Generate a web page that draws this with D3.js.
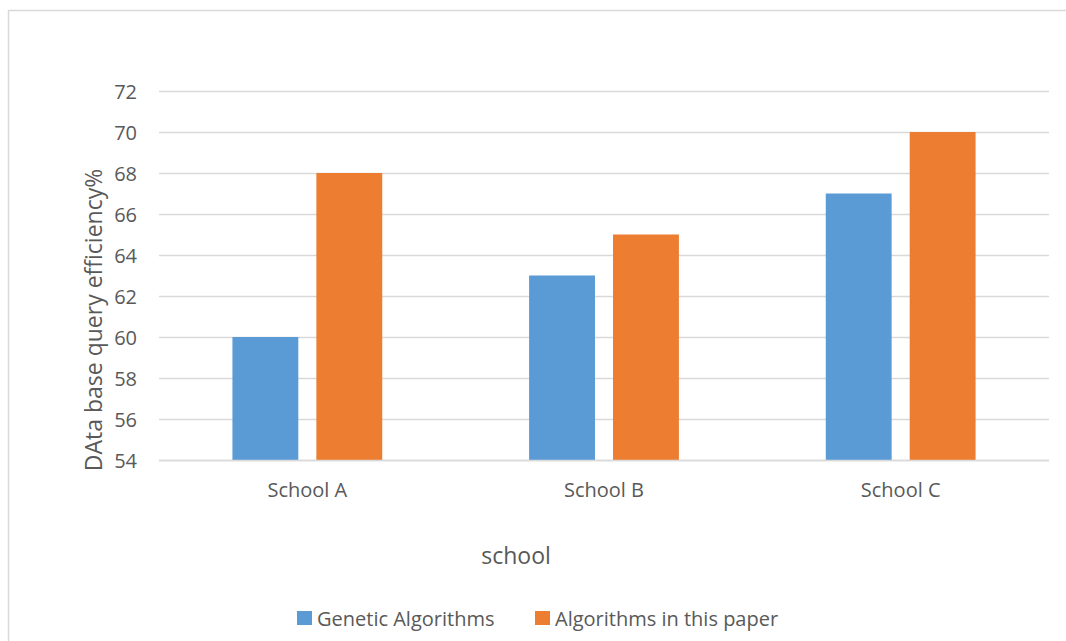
<!DOCTYPE html>
<html>
<head>
<meta charset="utf-8">
<script src="https://cdn.jsdelivr.net/npm/d3@7"></script>
<style>
  html, body { margin: 0; padding: 0; background: #fff; }
  svg text { font-family: "Open Sans", "Liberation Sans", sans-serif; fill: #595959; }
</style>
</head>
<body>
<svg id="chart" width="1066" height="641"></svg>
<script>
// Chart data
const categories = ["School A", "School B", "School C"];
const seriesNames = ["Genetic Algorithms", "Algorithms in this paper"];
const geneticValues = [60, 63, 67];
const paperValues = [68, 65, 70];
const yTicks = [54, 56, 58, 60, 62, 64, 66, 68, 70, 72];
const colors = ["#5B9BD5", "#ED7D31"];

const rows = categories.map((c, i) => ({ category: c, values: [geneticValues[i], paperValues[i]] }));

const svg = d3.select("#chart");

// Outer chart frame (right and bottom edges run past the page)
svg.append("rect")
  .attr("x", 8.5).attr("y", 10.5)
  .attr("width", 1200).attr("height", 700)
  .attr("fill", "#fff").attr("stroke", "#d9d9d9").attr("stroke-width", 1.5);

const plot = { left: 159, right: 1049, top: 91, bottom: 460 };

const y = d3.scaleLinear().domain([54, 72]).range([plot.bottom, plot.top]);
const x0 = d3.scaleBand().domain(categories).range([plot.left, plot.right])
  .paddingInner(0.495).paddingOuter(0.2475);
const x1 = d3.scaleBand().domain(d3.range(seriesNames.length)).range([0, x0.bandwidth()])
  .paddingInner(0.215);

// Horizontal gridlines
svg.append("g").selectAll("line").data(yTicks).join("line")
  .attr("x1", plot.left).attr("x2", plot.right)
  .attr("y1", d => Math.round(y(d)) + 0.5).attr("y2", d => Math.round(y(d)) + 0.5)
  .attr("stroke", "#d9d9d9").attr("stroke-width", 1.3);

// Y axis tick labels
const yAxis = d3.axisLeft(y).tickValues(yTicks).tickSize(0).tickPadding(0);
const gy = svg.append("g").attr("transform", `translate(137,0)`).call(yAxis);
gy.select(".domain").remove();
gy.selectAll("text").attr("font-size", 20).attr("dy", "0.35em").style("fill", "#595959");

// Bars
svg.append("g").selectAll("g").data(rows).join("g")
  .attr("transform", d => `translate(${x0(d.category)},0)`)
  .selectAll("rect").data(d => d.values.map((v, i) => ({ v, i }))).join("rect")
  .attr("x", d => x1(d.i)).attr("width", x1.bandwidth())
  .attr("y", d => y(d.v)).attr("height", d => y(54) - y(d.v))
  .attr("fill", d => colors[d.i]);

// Baseline
svg.append("line")
  .attr("x1", plot.left).attr("x2", plot.right)
  .attr("y1", plot.bottom + 0.5).attr("y2", plot.bottom + 0.5)
  .attr("stroke", "#d9d9d9").attr("stroke-width", 1.3);

// Category axis labels
const xAxis = d3.axisBottom(x0).tickSize(0).tickPadding(0);
const gx = svg.append("g").attr("transform", `translate(0,${plot.bottom})`).call(xAxis);
gx.select(".domain").remove();
gx.selectAll("text").attr("font-size", 20).attr("y", 37).attr("dy", 0).style("fill", "#595959");

// Axis titles
svg.append("text")
  .attr("transform", "translate(102,320) rotate(-90)")
  .attr("text-anchor", "middle").attr("font-size", 23)
  .text("DAta base query efficiency%");

svg.append("text")
  .attr("x", 516).attr("y", 564)
  .attr("text-anchor", "middle").attr("font-size", 23)
  .text("school");

// Legend
const legendItems = [{ x: 297 }, { x: 535 }];
const lg = svg.append("g").selectAll("g").data(seriesNames).join("g")
  .attr("transform", (d, i) => `translate(${legendItems[i].x},611)`);
lg.append("rect").attr("width", 15).attr("height", 14).attr("fill", (d, i) => colors[i]);
lg.append("text").attr("x", 20).attr("y", 15).attr("font-size", 20).text(d => d);
</script>
</body>
</html>
